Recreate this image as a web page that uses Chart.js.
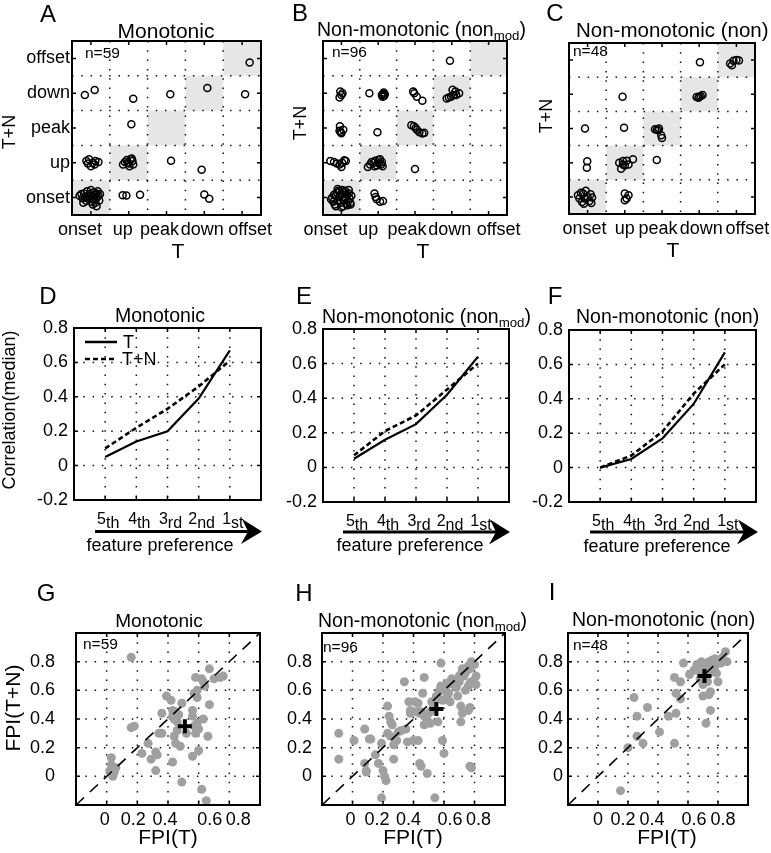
<!DOCTYPE html>
<html lang="en">
<head>
  <meta charset="UTF-8" />
  <title>Feature preference: monotonic vs non-monotonic</title>
  <script src="https://cdn.jsdelivr.net/npm/chart.js"></script>
  <style>
    body { margin: 0; background: #fff; }
    #fig {
      position: relative; width: 771px; height: 853px; overflow: hidden;
      font-family: 'Liberation Sans', Arial, Helvetica, sans-serif; color: #000;
    }
    #fig canvas { position: absolute; z-index: 1; }
    .t { position: absolute; white-space: nowrap; line-height: 1; z-index: 2; }
    .c { transform: translate(-50%, -50%); }
    .l { transform: translateY(-50%); }
    .r { transform: translate(-50%, -50%) rotate(-90deg); }
    .letter { font-size: 24px; }
    .title { font-size: 20px; }
    .lab { font-size: 18px; }
    .n { font-size: 15.5px; }
    sub { font-size: 0.68em; vertical-align: -0.32em; line-height: 0; }
    svg { position: absolute; left: 0; top: 0; z-index: 2; }
  </style>
</head>
<body>
<div id="fig">
  <!-- panel letters -->
  <div class="t c letter" style="left:48px;top:14px">A</div>
  <div class="t c letter" style="left:300px;top:13px">B</div>
  <div class="t c letter" style="left:555px;top:13px">C</div>
  <div class="t c letter" style="left:48px;top:296px">D</div>
  <div class="t c letter" style="left:304px;top:296px">E</div>
  <div class="t c letter" style="left:555px;top:296px">F</div>
  <div class="t c letter" style="left:46px;top:593px">G</div>
  <div class="t c letter" style="left:304px;top:593px">H</div>
  <div class="t c letter" style="left:552px;top:592px">I</div>

  <!-- titles -->
  <div class="t c title" style="left:166px;top:30px;font-size:21px">Monotonic</div>
  <div class="t l title" style="left:317px;top:30px;font-size:19.5px">Non-monotonic (non<sub>mod</sub>)</div>
  <div class="t l title" style="left:576px;top:30px;font-size:20.5px">Non-monotonic (non)</div>
  <div class="t c title" style="left:160px;top:316px;font-size:19.5px">Monotonic</div>
  <div class="t l title" style="left:322px;top:317px;font-size:19.5px">Non-monotonic (non<sub>mod</sub>)</div>
  <div class="t l title" style="left:576px;top:317px;font-size:19.5px">Non-monotonic (non)</div>
  <div class="t c title" style="left:159px;top:620px;font-size:19px">Monotonic</div>
  <div class="t l title" style="left:318px;top:621px;font-size:19.5px">Non-monotonic (non<sub>mod</sub>)</div>
  <div class="t l title" style="left:572px;top:620px;font-size:19.5px">Non-monotonic (non)</div>

  <!-- n labels -->
  <div class="t l n" style="left:85px;top:53px">n=59</div>
  <div class="t l n" style="left:332px;top:52px">n=96</div>
  <div class="t l n" style="left:573px;top:51px">n=48</div>
  <div class="t l n" style="left:83px;top:644px">n=59</div>
  <div class="t l n" style="left:323px;top:647px">n=96</div>
  <div class="t l n" style="left:573px;top:645px">n=48</div>

  <!-- axis titles -->
  <div class="t r lab" style="left:9px;top:132px">T+N</div>
  <div class="t r lab" style="left:300px;top:123px">T+N</div>
  <div class="t r lab" style="left:546px;top:116px">T+N</div>
  <div class="t c lab" style="left:178px;top:250px;font-size:21px">T</div>
  <div class="t c lab" style="left:423px;top:250px;font-size:21px">T</div>
  <div class="t c lab" style="left:673px;top:249px;font-size:21px">T</div>

  <div class="t r lab" style="left:9px;top:410px">Correlation(median)</div>
  <div class="t c lab" style="left:160px;top:545px">feature preference</div>
  <div class="t c lab" style="left:410px;top:545px">feature preference</div>
  <div class="t c lab" style="left:657px;top:546px">feature preference</div>
  <div class="t l lab" style="left:123px;top:342px">T</div>
  <div class="t l lab" style="left:122px;top:359px">T+N</div>

  <div class="t r lab" style="left:12px;top:708px;font-size:21px">FPI(T+N)</div>
  <div class="t c lab" style="left:168px;top:836px;font-size:21px">FPI(T)</div>
  <div class="t c lab" style="left:413px;top:836px;font-size:21px">FPI(T)</div>
  <div class="t c lab" style="left:667px;top:836px;font-size:21px">FPI(T)</div>

  <svg width="771" height="853">
    <!-- legend of D -->
    <line x1="85" y1="342" x2="117" y2="342" stroke="#000" stroke-width="2.5"/>
    <line x1="85" y1="359" x2="117" y2="359" stroke="#000" stroke-width="2.5" stroke-dasharray="5 3"/>
    <!-- feature preference arrows -->
    <line x1="95" y1="531.5" x2="250" y2="531.5" stroke="#000" stroke-width="3"/>
    <polygon points="262,531.5 242,519 248,531.5 241,544" fill="#000"/>
    <line x1="343" y1="532" x2="498" y2="532" stroke="#000" stroke-width="3"/>
    <polygon points="510,532 490,519.5 496,532 489,544.5" fill="#000"/>
    <line x1="590" y1="532" x2="746" y2="532" stroke="#000" stroke-width="3"/>
    <polygon points="758,532 738,519.5 744,532 737,544.5" fill="#000"/>
  </svg>
</div>

<script>
  const FONT = "'Liberation Sans', Arial, Helvetica, sans-serif";

  // A-C: preferred feature under T (x) and T+N (y), 0=onset ... 4=offset, with jitter
  const catLabels = ['onset', 'up', 'peak', 'down', 'offset'];
  const catTicks = [0, 1, 2, 3, 4];

  const monoPref = [
    [4.2, 3.88],
    [-0.16, 2.95], [0.1, 3.09], [1.12, 2.84], [2.1, 2.97], [3.08, 3.15], [4.08, 2.97],
    [1.07, 2.11],
    [-0.12, 1.05], [-0.05, 1.1], [0.05, 1.0], [0.12, 1.05], [0.2, 1.02], [0.0, 0.9], [-0.08, 0.98], [0.1, 0.95],
    [0.85, 0.95], [0.9, 1.02], [0.95, 1.08], [1.0, 0.98], [1.05, 1.1], [1.1, 1.05], [1.12, 0.95], [1.02, 0.9], [0.97, 1.0], [1.08, 1.12],
    [2.12, 1.06], [2.93, 0.8],
    [-0.3, 0.05], [-0.25, 0.1], [-0.22, -0.02], [-0.18, 0.12], [-0.15, 0.0], [-0.12, -0.1], [-0.1, 0.18], [-0.08, 0.05],
    [-0.05, -0.05], [-0.02, 0.1], [0.0, 0.22], [0.02, -0.12], [0.05, 0.05], [0.07, 0.15], [0.08, -0.05], [0.1, 0.08],
    [0.12, -0.15], [0.14, 0.12], [0.16, 0.0], [0.18, 0.18], [0.2, 0.05], [0.22, -0.08], [0.24, 0.1], [0.15, -0.25],
    [-0.2, -0.15], [0.05, -0.2],
    [0.84, 0.07], [0.94, 0.06], [1.3, 0.08],
    [3.0, 0.09], [3.13, -0.03]
  ];

  const nonModPref = [
    [2.95, 3.93],
    [-0.03, 3.05], [0.0, 2.95], [-0.05, 2.88], [0.03, 3.0],
    [0.76, 3.0], [1.1, 2.95], [1.13, 2.98], [1.16, 2.92], [1.18, 2.97], [1.12, 2.9], [1.15, 3.02],
    [1.98, 3.0], [2.05, 2.9], [2.2, 2.78], [1.95, 3.05],
    [2.86, 2.85], [2.92, 2.88], [2.98, 2.9], [3.05, 2.95], [3.1, 3.05], [3.02, 3.1], [3.2, 3.0], [3.12, 2.95],
    [-0.04, 2.05], [-0.05, 1.92], [0.0, 1.85], [0.05, 1.95], [-0.02, 1.88],
    [0.98, 1.88],
    [1.9, 2.08], [1.97, 2.05], [2.05, 1.95], [2.12, 1.88], [2.2, 1.84], [2.25, 1.86], [2.02, 2.0],
    [-0.3, 1.05], [-0.2, 1.02], [-0.12, 0.98], [-0.05, 0.95], [0.02, 1.0], [0.08, 1.07], [0.12, 1.05], [0.0, 0.88],
    [0.72, 0.88], [0.78, 0.95], [0.82, 1.02], [0.88, 1.0], [0.92, 1.06], [0.96, 0.92], [1.0, 1.08], [1.02, 0.98],
    [1.05, 1.1], [1.08, 0.95], [1.1, 1.02], [1.12, 0.9], [0.9, 0.9],
    [2.0, 0.82],
    [-0.25, 0.0], [-0.22, -0.12], [-0.2, 0.08], [-0.18, -0.2], [-0.15, 0.05], [-0.12, 0.15], [-0.1, -0.08], [-0.08, 0.2],
    [-0.05, 0.02], [-0.02, -0.15], [0.0, 0.1], [0.02, 0.22], [0.05, -0.05], [0.07, 0.15], [0.1, 0.0], [0.12, -0.18],
    [0.15, 0.08], [0.18, -0.1], [0.2, 0.12], [0.22, -0.02], [0.25, -0.2], [0.27, 0.05], [-0.15, -0.25], [0.05, -0.25],
    [-0.28, -0.05], [0.1, 0.2], [-0.05, 0.18], [0.16, -0.22], [0.0, -0.28], [-0.1, 0.25], [0.2, 0.22], [0.24, -0.15],
    [0.9, 0.12], [0.93, 0.02], [0.96, -0.05], [1.05, -0.12], [1.13, -0.1]
  ];

  const nonPref = [
    [3.02, 3.94], [3.83, 3.9], [3.92, 3.98], [4.0, 4.0], [4.07, 3.99], [3.88, 3.85],
    [0.94, 2.93], [2.93, 2.92], [2.98, 2.9], [3.04, 2.95], [3.09, 2.98], [3.0, 2.93],
    [-0.07, 2.0], [0.98, 2.02], [1.81, 1.98], [1.86, 1.96], [1.92, 2.0], [1.98, 1.8], [2.0, 1.72], [1.9, 1.95],
    [-0.01, 1.04], [-0.02, 0.85], [0.85, 1.0], [0.9, 0.82], [0.95, 1.05], [1.0, 0.92], [1.05, 1.06], [1.1, 0.95],
    [1.22, 1.1], [0.95, 0.95], [1.86, 1.08],
    [-0.26, 0.05], [-0.22, -0.05], [-0.18, 0.12], [-0.15, -0.15], [-0.12, 0.1], [-0.08, -0.05], [-0.05, 0.18],
    [0.0, 0.0], [0.05, -0.12], [0.08, 0.08], [0.12, -0.02], [0.1, -0.18], [-0.1, -0.2],
    [1.0, 0.1], [1.05, -0.05], [1.0, -0.1], [1.1, 0.05]
  ];

  // D-F: median correlation by feature rank (x = 1..5 is 5th..1st)
  const rankNums = ['5', '4', '3', '2', '1'];
  const rankSubs = ['th', 'th', 'rd', 'nd', 'st'];
  const corrTicks = [-0.2, 0, 0.2, 0.4, 0.6, 0.8];
  const monoT = [0.05, 0.14, 0.20, 0.39, 0.67];
  const monoTN = [0.10, 0.22, 0.33, 0.46, 0.61];
  const nonModT = [0.05, 0.16, 0.25, 0.42, 0.64];
  const nonModTN = [0.07, 0.21, 0.30, 0.45, 0.60];
  const nonT = [0.00, 0.05, 0.17, 0.37, 0.67];
  const nonTN = [0.00, 0.07, 0.21, 0.43, 0.60];

  // G-I: FPI(T) vs FPI(T+N)
  const fpiTicks = [0, 0.2, 0.4, 0.6, 0.8];
  const fpiLabels = ['0', '0.2', '0.4', '0.6', '0.8'];
  const diagLine = [[-0.2, -0.2], [1, 1]];
  const monoFpi = [
    [0.16, 0.83], [0.03, 0.13], [0.03, 0.08], [0.04, 0.05], [0.05, 0.03], [0.04, 0.0], [0.06, 0.06], [0.02, 0.04],
    [0.16, 0.34], [0.18, 0.35], [0.23, 0.16], [0.27, 0.23], [0.29, 0.12], [0.32, 0.17], [0.33, 0.15], [0.32, 0.04],
    [0.34, 0.30], [0.36, 0.30], [0.36, 0.44], [0.39, 0.56], [0.42, 0.53], [0.43, 0.42], [0.44, 0.40], [0.45, 0.45],
    [0.43, 0.46], [0.47, 0.43], [0.44, 0.28], [0.43, 0.10], [0.45, 0.23], [0.48, 0.21], [0.46, 0.38], [0.49, 0.51],
    [0.49, -0.04], [0.52, 0.30], [0.56, 0.46], [0.56, 0.42], [0.56, 0.14], [0.57, 0.35], [0.58, 0.30], [0.59, 0.37],
    [0.58, 0.69], [0.62, 0.68], [0.59, 0.60], [0.59, 0.55], [0.63, 0.40], [0.64, 0.63], [0.63, 0.66], [0.67, 0.75],
    [0.67, 0.50], [0.66, 0.28], [0.62, -0.09], [0.65, -0.17], [0.70, 0.68], [0.74, 0.69], [0.76, 0.70], [0.60, 0.18],
    [0.57, 0.58], [0.60, 0.33], [0.46, 0.32]
  ];
  const monoMedian = [0.51, 0.35];
  const nonModFpi = [
    [-0.09, 0.30], [-0.09, 0.12], [0.01, 0.25], [0.08, 0.33], [0.08, 0.09], [0.09, 0.04], [0.09, 0.03], [0.11, 0.26],
    [0.12, 0.26], [0.15, 0.15], [0.17, 0.09], [0.19, 0.23], [0.20, 0.04], [0.21, 0.00], [0.22, -0.03], [0.19, -0.15],
    [0.23, 0.49], [0.24, 0.42], [0.25, 0.38], [0.23, 0.30], [0.25, 0.28], [0.26, 0.36], [0.27, 0.22], [0.27, 0.12],
    [0.29, 0.25], [0.32, 0.32], [0.34, 0.66], [0.36, 0.24], [0.37, 0.52], [0.38, 0.46], [0.38, 0.44], [0.43, 0.25],
    [0.41, 0.52], [0.43, 0.51], [0.44, 0.44], [0.45, 0.45], [0.44, 0.09], [0.45, 0.07], [0.46, 0.58], [0.47, 0.69],
    [0.47, 0.36], [0.47, 0.42], [0.49, 0.02], [0.49, 0.39], [0.51, 0.45], [0.52, 0.52], [0.53, 0.48], [0.51, 0.37],
    [0.54, -0.15], [0.56, 0.55], [0.57, 0.60], [0.58, 0.63], [0.58, 0.79], [0.59, 0.53], [0.59, 0.25], [0.60, 0.16],
    [0.61, 0.62], [0.62, 0.65], [0.63, 0.58], [0.64, 0.52], [0.65, 0.68], [0.69, 0.56], [0.71, 0.49], [0.70, 0.70],
    [0.71, 0.71], [0.72, 0.75], [0.73, 0.70], [0.74, 0.72], [0.71, 0.38], [0.72, 0.44], [0.76, 0.77], [0.77, 0.75],
    [0.78, 0.80], [0.76, 0.63], [0.77, 0.65], [0.78, 0.66], [0.76, 0.46], [0.77, 0.48], [0.78, 0.06], [0.77, 0.07],
    [0.81, 0.70], [0.81, 0.64], [0.74, 0.60], [0.68, 0.62], [0.66, 0.64], [0.60, 0.60], [0.55, 0.56], [0.50, 0.44],
    [0.42, 0.45], [0.35, 0.33], [0.30, 0.31], [0.62, 0.55], [0.70, 0.66], [0.80, 0.78], [0.56, 0.38], [0.40, 0.25]
  ];
  const nonModMedian = [0.55, 0.47];
  const nonFpi = [
    [0.15, -0.10], [0.20, 0.20], [0.24, 0.55], [0.26, 0.42], [0.26, 0.28], [0.30, 0.23], [0.33, 0.48], [0.41, 0.31],
    [0.47, 0.42], [0.51, 0.69], [0.52, 0.44], [0.51, 0.23], [0.52, 0.58], [0.55, 0.66], [0.55, 0.54], [0.57, 0.79],
    [0.61, 0.71], [0.68, 0.73], [0.70, 0.75], [0.68, 0.68], [0.70, 0.64], [0.70, 0.56], [0.72, 0.37], [0.74, 0.57],
    [0.75, 0.59], [0.75, 0.46], [0.74, 0.80], [0.76, 0.81], [0.78, 0.82], [0.73, 0.77], [0.75, 0.76], [0.77, 0.75],
    [0.79, 0.72], [0.80, 0.66], [0.83, 0.83], [0.85, 0.87], [0.86, 0.80], [0.82, 0.79], [0.72, 0.70], [0.74, 0.72],
    [0.66, 0.78], [0.69, 0.80], [0.78, 0.77], [0.80, 0.80], [0.71, 0.68], [0.76, 0.73], [0.64, 0.74], [0.73, 0.66]
  ];
  const nonMedian = [0.71, 0.70];

  const toXY = arr => arr.map(p => ({ x: p[0], y: p[1] }));
  const fmtNum = v => (Math.abs(v) < 1e-9 ? '0' : String(+v.toFixed(1)));

  // box, dotted grid, shaded diagonal cells and inward ticks (matlab style)
  const framePlugin = {
    id: 'frame',
    beforeDatasetsDraw(chart, args, o) {
      const { ctx, chartArea: a, scales: { x, y } } = chart;
      ctx.save();
      ctx.beginPath();
      ctx.rect(a.left, a.top, a.width, a.height);
      ctx.clip();
      if (o.cells) {
        ctx.fillStyle = '#e6e6e6';
        o.cells.forEach(c => {
          const x0 = x.getPixelForValue(c - 0.5), x1 = x.getPixelForValue(c + 0.5);
          const y0 = y.getPixelForValue(c + 0.5), y1 = y.getPixelForValue(c - 0.5);
          ctx.fillRect(x0, y0, x1 - x0, y1 - y0);
        });
      }
      ctx.strokeStyle = '#111';
      ctx.lineWidth = 1.5;
      ctx.setLineDash([1.5, 7.8]);
      o.gridX.forEach(v => {
        const p = x.getPixelForValue(v);
        ctx.beginPath(); ctx.moveTo(p, a.top); ctx.lineTo(p, a.bottom); ctx.stroke();
      });
      o.gridY.forEach(v => {
        const p = y.getPixelForValue(v);
        ctx.beginPath(); ctx.moveTo(a.left, p); ctx.lineTo(a.right, p); ctx.stroke();
      });
      ctx.restore();
    },
    afterDatasetsDraw(chart, args, o) {
      const { ctx, chartArea: a, scales: { x, y } } = chart;
      const tl = 4;
      ctx.save();
      ctx.strokeStyle = '#000';
      ctx.lineWidth = 1.5;
      o.ticksX.forEach(v => {
        const p = x.getPixelForValue(v);
        ctx.beginPath();
        ctx.moveTo(p, a.bottom); ctx.lineTo(p, a.bottom - tl);
        ctx.moveTo(p, a.top); ctx.lineTo(p, a.top + tl);
        ctx.stroke();
      });
      o.ticksY.forEach(v => {
        const p = y.getPixelForValue(v);
        ctx.beginPath();
        ctx.moveTo(a.left, p); ctx.lineTo(a.left + tl, p);
        ctx.moveTo(a.right, p); ctx.lineTo(a.right - tl, p);
        ctx.stroke();
      });
      ctx.lineWidth = 2;
      ctx.strokeRect(a.left, a.top, a.width, a.height);
      ctx.restore();
    }
  };

  // x tick labels, nudged like the hand-spaced originals
  const xLabelPlugin = {
    id: 'xLabels',
    afterDraw(chart, args, o) {
      const { ctx, chartArea: a, scales: { x } } = chart;
      ctx.save();
      ctx.fillStyle = '#000';
      ctx.font = '18px ' + FONT;
      ctx.textAlign = 'center';
      ctx.textBaseline = 'alphabetic';
      o.labels.forEach((s, i) => ctx.fillText(s, x.getPixelForValue(o.values[i]) + o.shift[i], a.bottom + o.dy));
      ctx.restore();
    }
  };

  // 5th ... 1st tick labels with lowered suffix
  const rankPlugin = {
    id: 'rankTicks',
    afterDraw(chart) {
      const { ctx, chartArea: a, scales: { x } } = chart;
      ctx.save();
      ctx.fillStyle = '#000';
      ctx.textBaseline = 'alphabetic';
      ctx.textAlign = 'left';
      ctx.font = '16px ' + FONT;
      rankNums.forEach((n, i) => {
        const p = x.getPixelForValue(i + 1);
        const w1 = ctx.measureText(n).width, w2 = ctx.measureText(rankSubs[i]).width;
        const x0 = p - (w1 + w2) / 2 + 3;
        ctx.fillText(n, x0, a.bottom + 24);
        ctx.fillText(rankSubs[i], x0 + w1, a.bottom + 28);
      });
      ctx.restore();
    }
  };

  function axis(min, max, ticks, o) {
    return {
      type: 'linear', min, max,
      grid: { display: false, drawTicks: false },
      border: { display: false },
      afterBuildTicks: s => { s.ticks = ticks.map(v => ({ value: v })); },
      ticks: {
        display: o.show !== false, padding: o.pad, color: '#000', autoSkip: false, maxRotation: 0,
        font: { family: FONT, size: 18 }, callback: o.fmt
      }
    };
  }

  function panel(box, pad, config) {
    const cv = document.createElement('canvas');
    const w = pad.l + box.r - box.l + pad.r, h = pad.t + box.b - box.t + pad.b;
    cv.width = w; cv.height = h;
    cv.style.left = (box.l - pad.l) + 'px';
    cv.style.top = (box.t - pad.t) + 'px';
    cv.style.width = w + 'px';
    cv.style.height = h + 'px';
    document.getElementById('fig').appendChild(cv);
    const opt = config.options;
    opt.responsive = false;
    opt.animation = false;
    opt.devicePixelRatio = 1;
    opt.events = [];
    opt.layout = { padding: { top: pad.t, right: pad.r, left: 0, bottom: 0 } };
    opt.scales.x.afterFit = s => { s.height = pad.b; };
    opt.scales.y.afterFit = s => { s.width = pad.l; };
    opt.plugins.legend = { display: false };
    opt.plugins.tooltip = { enabled: false };
    return new Chart(cv, config);
  }

  function prefPanel(box, pad, pts, showY, shift) {
    const mid = [0.5, 1.5, 2.5, 3.5];
    panel(box, pad, {
      type: 'scatter',
      data: {
        datasets: [{
          data: toXY(pts), pointStyle: 'circle', pointRadius: 3.5, pointBorderWidth: 1.5,
          pointBorderColor: '#000', pointBackgroundColor: 'rgba(0,0,0,0)'
        }]
      },
      options: {
        scales: {
          x: axis(-0.5, 4.5, catTicks, { pad: 0, show: false, fmt: () => '' }),
          y: axis(-0.5, 4.5, catTicks, { pad: 2, show: showY, fmt: v => catLabels[v] })
        },
        plugins: {
          frame: { cells: catTicks, gridX: mid, gridY: mid, ticksX: catTicks, ticksY: catTicks },
          xLabels: { labels: catLabels, values: catTicks, shift, dy: 20 }
        }
      },
      plugins: [framePlugin, xLabelPlugin]
    });
  }

  function corrPanel(box, pad, tVals, tnVals) {
    const pos = [1, 2, 3, 4, 5];
    panel(box, pad, {
      type: 'scatter',
      data: {
        datasets: [
          { data: tVals.map((v, i) => ({ x: pos[i], y: v })), showLine: true, borderColor: '#000', borderWidth: 2.2, pointRadius: 0 },
          { data: tnVals.map((v, i) => ({ x: pos[i], y: v })), showLine: true, borderColor: '#000', borderWidth: 2.6, borderDash: [5, 3], pointRadius: 0 }
        ]
      },
      options: {
        scales: {
          x: axis(0, 6, pos, { pad: 0, show: false, fmt: () => '' }),
          y: axis(-0.2, 0.8, corrTicks, { pad: 6, fmt: fmtNum })
        },
        plugins: { frame: { gridX: pos, gridY: [0, 0.2, 0.4, 0.6], ticksX: pos, ticksY: corrTicks } }
      },
      plugins: [framePlugin, rankPlugin]
    });
  }

  function fpiPanel(box, pad, pts, median, yPad, shift) {
    panel(box, pad, {
      type: 'scatter',
      data: {
        datasets: [
          { data: toXY([median]), pointStyle: 'cross', pointRadius: 7, pointBorderWidth: 4, pointBorderColor: '#000', order: 0 },
          { data: toXY(diagLine), showLine: true, borderColor: '#000', borderWidth: 1.6, borderDash: [11, 8], pointRadius: 0, order: 1 },
          { data: toXY(pts), pointStyle: 'circle', pointRadius: 4.5, pointBorderWidth: 0, pointBackgroundColor: '#a0a0a0', order: 2 }
        ]
      },
      options: {
        scales: {
          x: axis(-0.2, 1.0, fpiTicks, { pad: 0, show: false, fmt: () => '' }),
          y: axis(-0.2, 1.0, fpiTicks, { pad: yPad, fmt: fmtNum })
        },
        plugins: {
          frame: { gridX: fpiTicks, gridY: fpiTicks, ticksX: fpiTicks, ticksY: fpiTicks },
          xLabels: { labels: fpiLabels, values: fpiTicks, shift, dy: 19.5 }
        }
      },
      plugins: [framePlugin, xLabelPlugin]
    });
  }

  prefPanel({ l: 72, t: 41, r: 261, b: 215 }, { l: 72, t: 40, r: 20, b: 40 }, monoPref, true, [-11, -6, -7, -2, 8]);
  prefPanel({ l: 323, t: 41, r: 507, b: 215 }, { l: 30, t: 40, r: 20, b: 40 }, nonModPref, false, [-16, -10, -8, -2, 10]);
  prefPanel({ l: 569, t: 43, r: 755, b: 214 }, { l: 30, t: 40, r: 14, b: 40 }, nonPref, false, [-3, 0, -4, 2, 11]);

  corrPanel({ l: 74, t: 328, r: 261, b: 500 }, { l: 74, t: 40, r: 10, b: 40 }, monoT, monoTN);
  corrPanel({ l: 323, t: 329, r: 509, b: 502 }, { l: 50, t: 40, r: 10, b: 40 }, nonModT, nonModTN);
  corrPanel({ l: 569, t: 330, r: 756, b: 502 }, { l: 50, t: 40, r: 10, b: 40 }, nonT, nonTN);

  fpiPanel({ l: 76, t: 633, r: 261, b: 805 }, { l: 76, t: 40, r: 10, b: 40 }, monoFpi, monoMedian, 21, [-2, -4, -3, 11, 9]);
  fpiPanel({ l: 322, t: 633, r: 506, b: 805 }, { l: 50, t: 40, r: 10, b: 40 }, nonModFpi, nonModMedian, 10, [-2, -6, -5, 6, 4]);
  fpiPanel({ l: 568, t: 633, r: 749, b: 805 }, { l: 50, t: 40, r: 10, b: 40 }, nonFpi, nonMedian, 5, [0, -5, -6, 6, 5]);
</script>
</body>
</html>
